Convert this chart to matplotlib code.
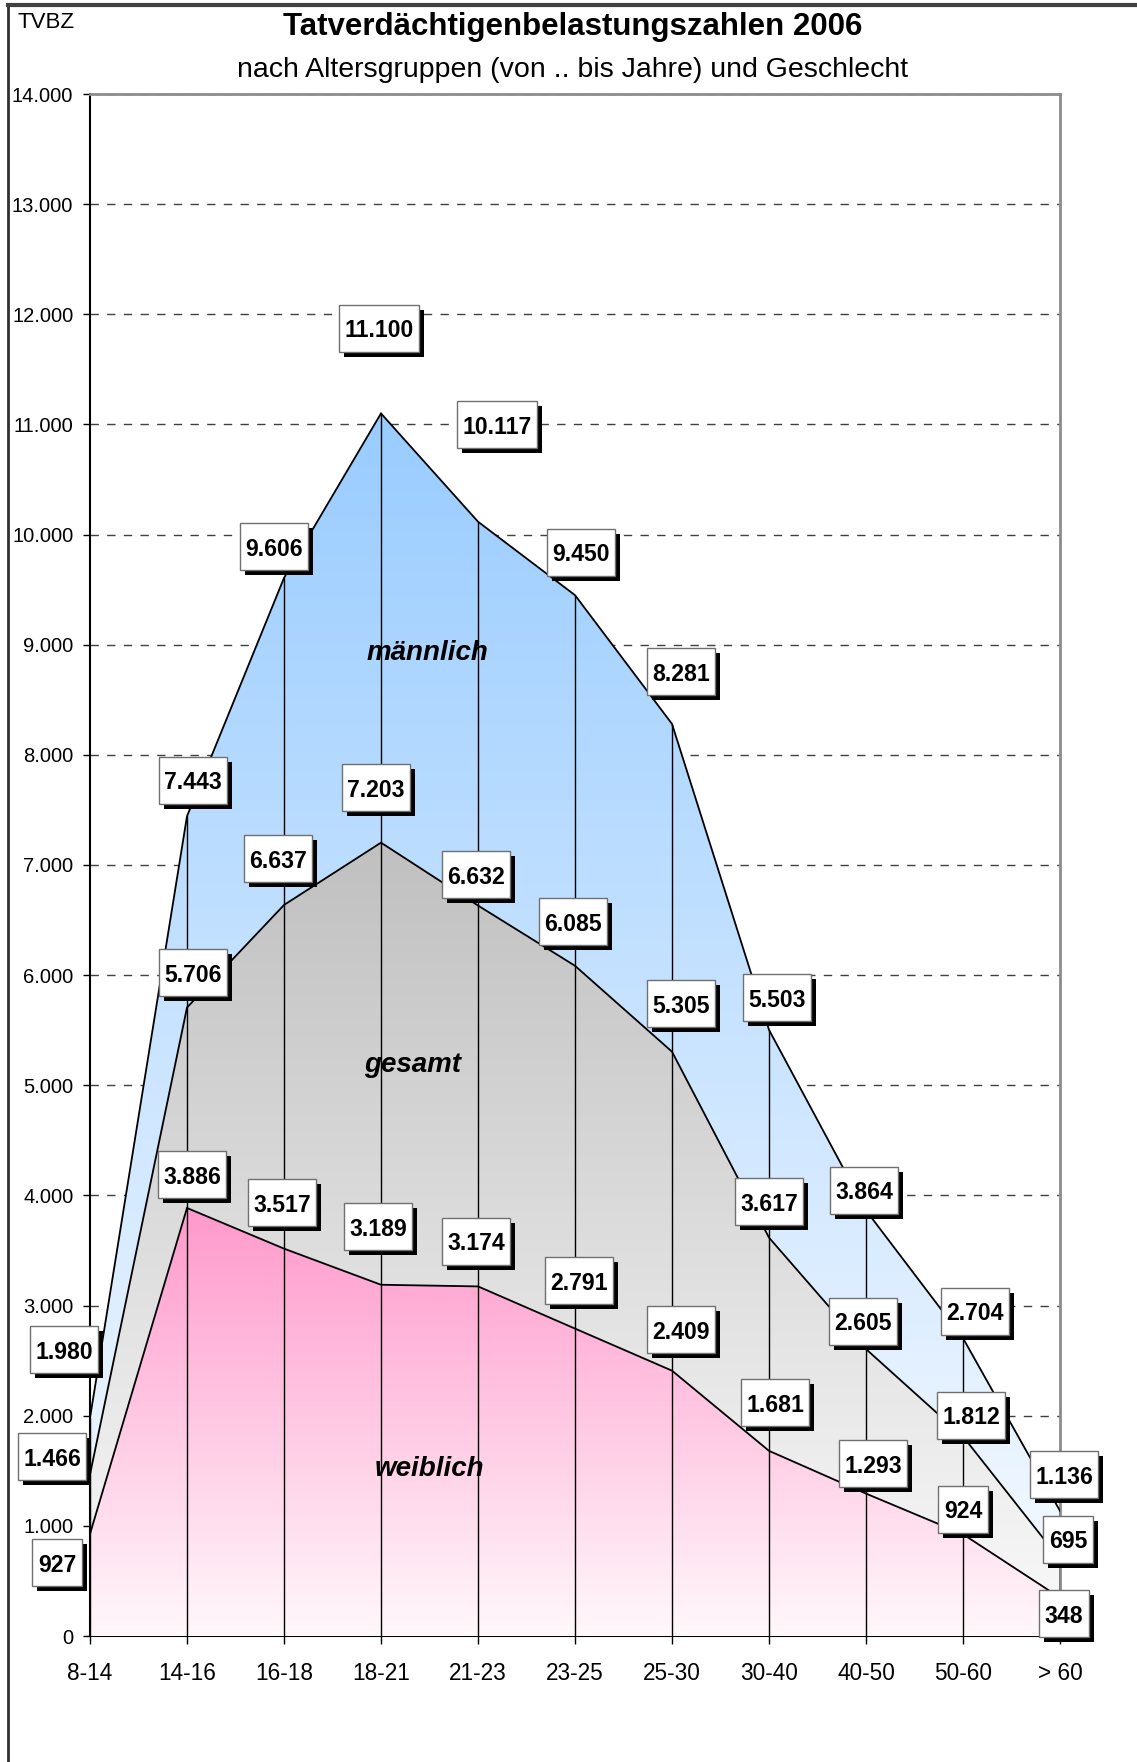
import numpy as np
import matplotlib
matplotlib.use("Agg")
import matplotlib.pyplot as plt
from matplotlib.patches import Rectangle, Polygon
from matplotlib.transforms import ScaledTranslation
from matplotlib.colors import to_rgb
from matplotlib.lines import Line2D

plt.rcParams['font.family'] = ['Liberation Sans', 'DejaVu Sans']

# ---------------- data ----------------
categories = ["8-14", "14-16", "16-18", "18-21", "21-23", "23-25",
              "25-30", "30-40", "40-50", "50-60", "> 60"]
maennlich = [1980, 7443, 9606, 11100, 10117, 9450, 8281, 5503, 3864, 2704, 1136]
gesamt = [1466, 5706, 6637, 7203, 6632, 6085, 5305, 3617, 2605, 1812, 695]
weiblich = [927, 3886, 3517, 3189, 3174, 2791, 2409, 1681, 1293, 924, 348]
y_ticks = list(range(0, 14001, 1000))

# label offsets in pixels (dx, dy) relative to each data point
off_m = [(-26, 68), (6, 36), (-10, 31), (-2, 85), (19, 97), (6, 43), (9, 52),
         (8, 32), (-2, 20), (12, 27), (4, 36)]
off_g = [(-38, 18), (6, 35), (-6, 46), (-5, 55), (-2, 31), (-2, 44), (9, 48),
         (0, 36), (-3, 28), (8, 21), (8, 20)]
off_w = [(-33, -29), (5, 33), (-2, 46), (-3, 58), (-2, 45), (4, 48), (9, 41),
         (6, 48), (7, 30), (0, 25), (4, -16)]

W, H, DPI = 1137, 1762, 100
fig = plt.figure(figsize=(W / DPI, H / DPI), dpi=DPI)
fig.patch.set_facecolor("white")
ax = fig.add_axes([90 / W, 1 - 1636 / H, 970 / W, 1542 / H])
ax.set_xlim(0, len(categories) - 1)
ax.set_ylim(0, 14000)

x = np.arange(len(categories))


def gradient_fill(xv, yv, top_col, bot_col, z):
    ymax = max(yv)
    t = np.linspace(0, 1, 256)[:, None]
    tc, bc = np.array(to_rgb(top_col)), np.array(to_rgb(bot_col))
    img = (bc[None, :] * (1 - t) + tc[None, :] * t)[:, None, :]
    im = ax.imshow(img, extent=[xv[0], xv[-1], 0, ymax], origin="lower",
                   aspect="auto", zorder=z, interpolation="bilinear")
    verts = [(xv[0], 0)] + list(zip(xv, yv)) + [(xv[-1], 0)]
    poly = Polygon(verts, closed=True, facecolor="none", edgecolor="none")
    ax.add_patch(poly)
    im.set_clip_path(poly)


gradient_fill(x, maennlich, "#99CCFF", "#F8FBFF", 1)
gradient_fill(x, gesamt, "#C0C0C0", "#FAFAFA", 2)
gradient_fill(x, weiblich, "#FF99CC", "#FFF8FB", 3)
ax.set_xlim(0, len(categories) - 1)
ax.set_ylim(0, 14000)

# drop lines
ax.vlines(x, 0, maennlich, colors="black", lw=1.0, zorder=4)
for s in (maennlich, gesamt, weiblich):
    ax.plot(x, s, color="black", lw=1.3, zorder=5, solid_joinstyle="miter")

# grid
ax.set_axisbelow(True)
ax.yaxis.grid(True, color="#404040", lw=1.0, linestyle=(0, (6, 6)))
ax.set_yticks(y_ticks)
ax.set_yticklabels([f"{v:,}".replace(",", ".") for v in y_ticks], fontsize=14.5)
ax.set_xticks(x)
ax.set_xticklabels(categories, fontsize=16.3)
ax.tick_params(axis="y", direction="out", length=5, width=1, pad=7)
ax.tick_params(axis="x", direction="out", length=6, width=1, pad=13)
for sp in ("left", "bottom"):
    ax.spines[sp].set_color("black")
    ax.spines[sp].set_linewidth(1.5)
for sp in ("top", "right"):
    ax.spines[sp].set_color("#8C8C8C")
    ax.spines[sp].set_linewidth(2)

# area names
for txt, xi, yi in (("männlich", 3.48, 8929), ("gesamt", 3.33, 5184), ("weiblich", 3.50, 1520)):
    ax.text(xi, yi, txt, fontsize=20, fontweight="bold", fontstyle="italic",
            ha="center", va="center", zorder=8)

# value labels
texts = []
for series, offs in ((maennlich, off_m), (gesamt, off_g), (weiblich, off_w)):
    for i, (v, (dx, dy)) in enumerate(zip(series, offs)):
        tr = ax.transData + ScaledTranslation(dx / DPI, (dy - 9) / DPI, fig.dpi_scale_trans)
        t = ax.text(i, v, f"{v:,}".replace(",", "."), transform=tr, fontsize=16.6,
                    fontweight="bold", ha="center", va="baseline", zorder=22, clip_on=False)
        texts.append((t, i, v, dx, dy))

fig.canvas.draw()
r = fig.canvas.get_renderer()
for t, i, v, dx, dy in texts:
    w = t.get_window_extent(r).width + 11
    h = 47
    base = fig.dpi_scale_trans + ScaledTranslation(i, v, ax.transData)
    sh = Rectangle(((dx - w / 2 + 5) / DPI, (dy - h / 2 - 5) / DPI), w / DPI, h / DPI,
                   transform=base, facecolor="black", edgecolor="none", zorder=20, clip_on=False)
    bx = Rectangle(((dx - w / 2) / DPI, (dy - h / 2) / DPI), w / DPI, h / DPI,
                   transform=base, facecolor="white", edgecolor="#707070", lw=1.0,
                   zorder=21, clip_on=False)
    ax.add_patch(sh)
    ax.add_patch(bx)

# titles
fig.text(573 / W, 1 - 27 / H, "Tatverdächtigenbelastungszahlen 2006", fontsize=22.5,
         fontweight="bold", ha="center", va="center")
fig.text(573 / W, 1 - 70 / H, "nach Altersgruppen (von .. bis Jahre) und Geschlecht",
         fontsize=20.5, ha="center", va="center")
fig.text(17 / W, 1 - 23 / H, "TVBZ", fontsize=16, ha="left", va="center")

# outer frame lines (left and top)
fig.add_artist(Line2D([7.5 / W, 7.5 / W], [0, 1 - 5 / H], color="#303030", lw=2,
                      transform=fig.transFigure))
fig.add_artist(Line2D([7.5 / W, 1], [1 - 5 / H, 1 - 5 / H], color="#404040", lw=3,
                      transform=fig.transFigure))

fig.savefig("out.png", dpi=DPI, facecolor="white")
